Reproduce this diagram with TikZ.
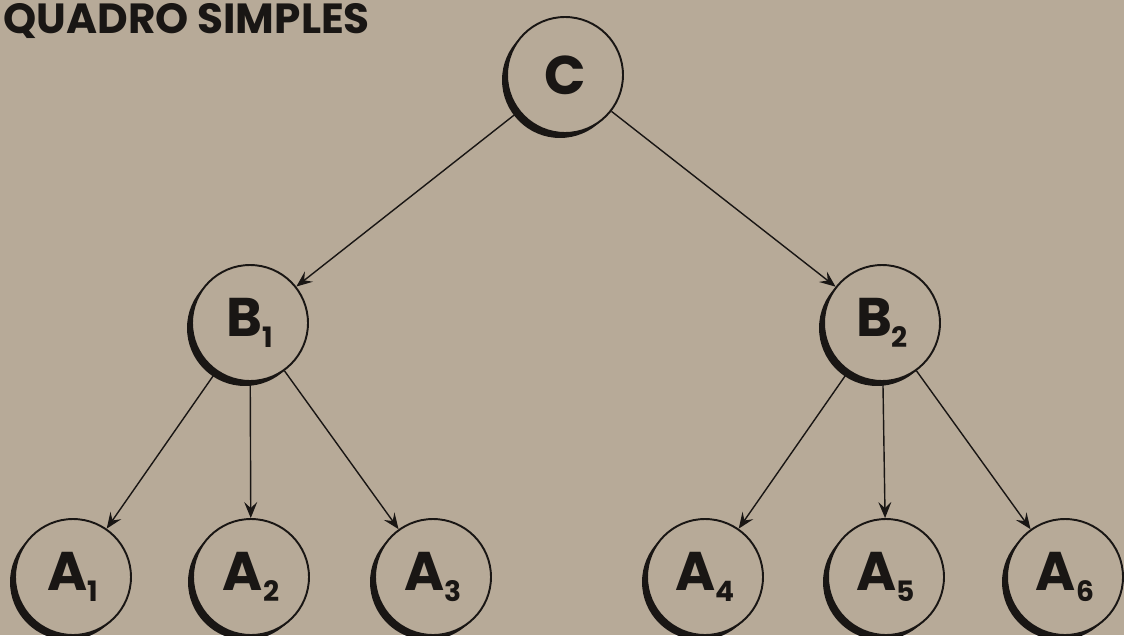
\documentclass[tikz,border=0pt]{standalone}
\usepackage{fontspec}
\newfontfamily\labfont{Poppins}
\usetikzlibrary{arrows.meta}
\definecolor{bg}{RGB}{183,170,152}
\definecolor{ink}{RGB}{25,22,20}
\newcommand\lbl[2]{#1\raisebox{-6pt}{\fontsize{16}{16}\selectfont #2}}
\tikzset{
  vert/.style={circle, fill=bg, draw=ink, line width=1.1pt, minimum size=2.32cm, inner sep=0pt,
    font=\labfont\bfseries\fontsize{31}{31}\selectfont, text=ink},
  conn/.style={draw=ink, line width=0.8pt, -{Stealth[length=3.2mm,width=2.6mm,inset=1.2mm]}}
}
\begin{document}
\begin{tikzpicture}[x=0.02cm,y=-0.02cm]
\fill[bg] (0,0) rectangle (1124,635);
\clip (0,0) rectangle (1124,635);
\useasboundingbox (0,0) rectangle (1124,635);
\node[anchor=base west, font=\labfont\bfseries\fontsize{24}{24}\selectfont, text=ink, inner sep=0pt] (title) at (3,34) {QUADRO SIMPLES};
\foreach \n/\x/\y/\t in {C/565/75/C, B1/250/323/{\lbl{B}{1}}, B2/882/323/{\lbl{B}{2}},
  A1/73/577/{\lbl{A}{1}}, A2/251/577/{\lbl{A}{2}}, A3/433/577/{\lbl{A}{3}},
  A4/705/577/{\lbl{A}{4}}, A5/886/577/{\lbl{A}{5}}, A6/1065/577/{\lbl{A}{6}}}{
  \fill[ink] (\x-5,\y+5) circle (1.16cm);
  \node[vert] (\n) at (\x,\y) {\t};
}
\draw[conn] (C) -- (B1);
\draw[conn] (C) -- (B2);
\draw[conn] (B1) -- (A1);
\draw[conn] (B1) -- (A2);
\draw[conn] (B1) -- (A3);
\draw[conn] (B2) -- (A4);
\draw[conn] (B2) -- (A5);
\draw[conn] (B2) -- (A6);
\end{tikzpicture}
\end{document}
